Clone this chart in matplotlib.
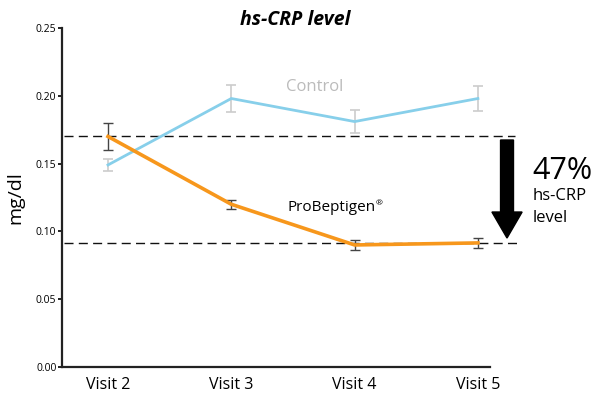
import matplotlib
matplotlib.use("Agg")
import matplotlib.pyplot as plt
from matplotlib.patches import FancyArrow

plt.rcParams['font.family'] = ['Open Sans', 'DejaVu Sans']

visits = ["Visit 2", "Visit 3", "Visit 4", "Visit 5"]
control = [0.149, 0.198, 0.181, 0.198]
control_err = [0.0045, 0.010, 0.0085, 0.009]
probeptigen = [0.170, 0.120, 0.090, 0.0915]
probeptigen_err = [0.010, 0.0035, 0.004, 0.004]
yticks = [0.00, 0.05, 0.10, 0.15, 0.20, 0.25]

W, H = 600, 397
fig = plt.figure(figsize=(6, 3.97), dpi=100)
ax = fig.add_axes([62/W, 1-367/H, (490-62)/W, (367-28)/H])

x = list(range(len(visits)))
ax.errorbar(x, control, yerr=control_err, color='#87cfea', lw=2,
            ecolor='#cccccc', elinewidth=1.2, capsize=3.5, capthick=1.2, zorder=3)
ax.errorbar(x, probeptigen, yerr=probeptigen_err, color='#f7971c', lw=2.6,
            ecolor='#444444', elinewidth=1.0, capsize=3.5, capthick=1.0, zorder=4)

# reference dashed lines (baseline and final ProBeptigen level)
for yv, xr in [(probeptigen[0], 3.30), (probeptigen[-1], 3.34)]:
    ax.plot([-0.36, xr], [yv, yv], color='#111111', lw=1.0,
            dashes=(6.5, 3.8), clip_on=False, zorder=2)

# arrow
arr = FancyArrow(3.236, 0.1674, 0, 0.0951 - 0.1674, width=0.105,
                 head_width=0.245, head_length=0.0192,
                 length_includes_head=True, color='black', clip_on=False, zorder=5)
ax.add_patch(arr)

ax.set_xlim(-0.373, 3.098)
ax.set_ylim(0, 0.25)
ax.set_yticks(yticks)
ax.set_yticklabels([f"{v:.2f}" for v in yticks], fontsize=7.5)
ax.set_xticks(x)
ax.set_xticklabels(visits, fontsize=11.5)
ax.tick_params(axis='x', length=0, pad=7)
ax.tick_params(axis='y', length=3, width=1.2, pad=1)
for s in ['top', 'right']:
    ax.spines[s].set_visible(False)
for s in ['left', 'bottom']:
    ax.spines[s].set_linewidth(1.6)
    ax.spines[s].set_color('#222222')

ax.set_ylabel("mg/dl", fontsize=14, labelpad=8)

t = ax.text(1.452, 0.1150, "ProBeptigen", fontsize=11, color='black', va='baseline')
ax.text(1.442, 0.2035, "Control", fontsize=12, color='#bbbbbb', va='baseline')

fig.text(295/W, 1-25/H, "hs-CRP level", fontsize=14, fontweight='bold',
         fontstyle='italic', ha='center', va='baseline')
fig.text(532/W, 1-179/H, "47%", fontsize=22, va='baseline')
fig.text(533/W, 1-200/H, "hs-CRP", fontsize=12, va='baseline')
fig.text(533/W, 1-222/H, "level", fontsize=12, va='baseline')

fig.canvas.draw()
bb = t.get_window_extent()
fig.text((bb.x1) / fig.bbox.width, (bb.y0 + 10) / fig.bbox.height, "®",
         fontsize=6, va='baseline')

fig.savefig("out.png", dpi=100)
